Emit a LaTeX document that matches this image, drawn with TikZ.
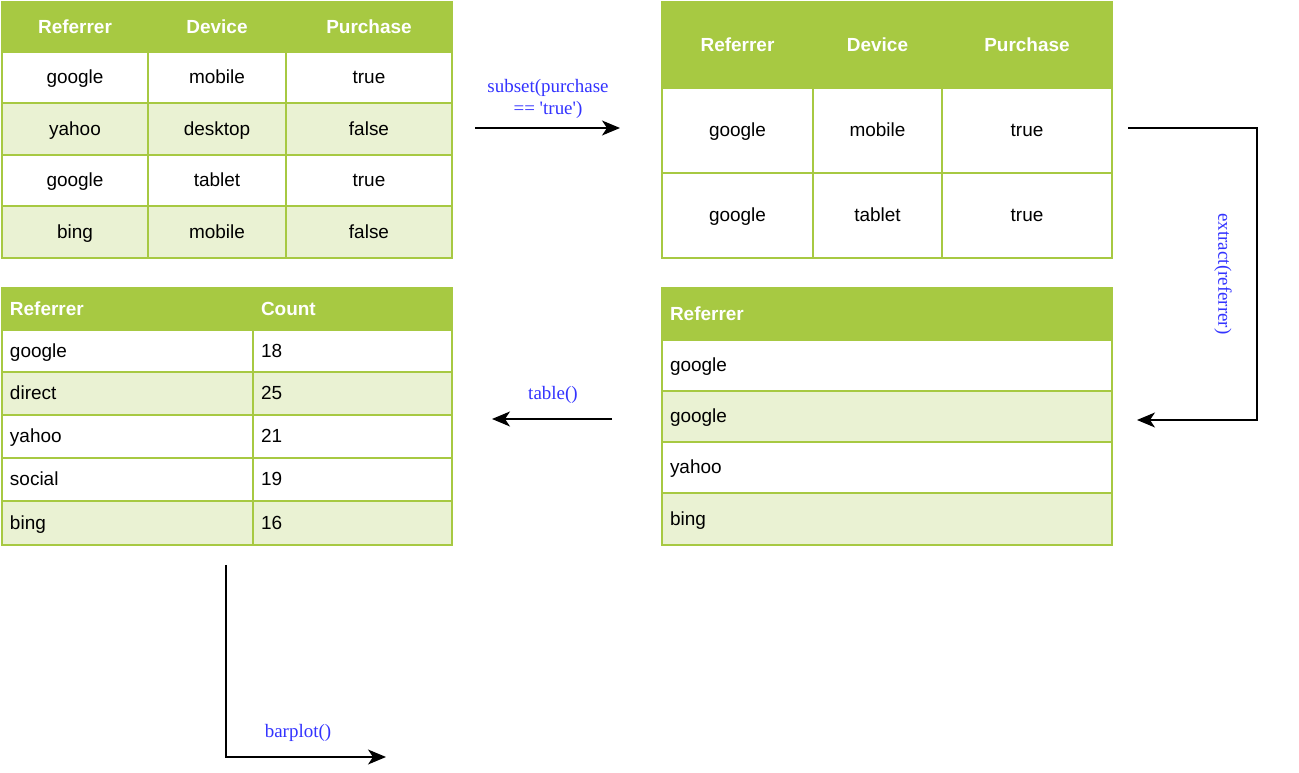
\documentclass[tikz,border=0pt]{standalone}
\usepackage{fontspec}
\setmainfont{Liberation Sans}
\newfontfamily\labelfont{Liberation Serif}[Ligatures=TeXOff]
\usetikzlibrary{arrows, arrows.meta}
\definecolor{tgreen}{HTML}{A7C942}
\definecolor{tlight}{HTML}{EAF2D3}
\definecolor{lblue}{HTML}{3333FF}
\newcommand\px{0.02cm}
\newcommand\tabfont{\fontsize{10.8}{13}\selectfont}
\newcommand\tcell[7]{%
  \pgfmathsetlengthmacro\cw{(#4-#2)*\px}%
  \pgfmathsetlengthmacro\ch{(#5-#3)*\px}%
  \pgfmathsetlengthmacro\tw{(#4-#2-16)*\px}%
  \node[#6, minimum width=\cw, minimum height=\ch] (#1) at ({(#2+#4)/2},{(#3+#5)/2}) {#7};}

\begin{document}
\begin{tikzpicture}[x=0.02cm, y=-0.02cm,
  cell/.style={draw=tgreen, line width=0.8pt, inner sep=0pt, font=\tabfont, text height=1.6ex, text depth=0.3ex},
  head/.style={cell, fill=tgreen, text=white, font=\tabfont\bfseries},
  body/.style={cell, fill=white},
  alt/.style={cell, fill=tlight},
  flush/.style={text width=\tw, align=left, inner xsep=0.16cm},
  lhead/.style={head, flush}, lbody/.style={body, flush}, lalt/.style={alt, flush},
  flow/.style={draw=black, line width=0.8pt, -{Stealth[length=0.36cm, width=0.3cm, inset=0.1cm]}},
  op/.style={text=lblue, font=\labelfont\fontsize{10.8}{12.5}\selectfont, inner sep=0pt, align=center}]
  \useasboundingbox (0,0) rectangle (1299,773);

  \foreach \r/\ya/\yb/\s/\a/\b/\c in {0/2/52/head/Referrer/Device/Purchase,
      1/52/103/body/google/mobile/true, 2/103/155/alt/yahoo/desktop/false,
      3/155/206/body/google/tablet/true, 4/206/258/alt/bing/mobile/false}{
    \tcell{t1-\r-1}{2}{\ya}{148}{\yb}{\s}{\a}
    \tcell{t1-\r-2}{148}{\ya}{286}{\yb}{\s}{\b}
    \tcell{t1-\r-3}{286}{\ya}{452}{\yb}{\s}{\c}
  }

  \foreach \r/\ya/\yb/\s/\a/\b/\c in {0/2/88/head/Referrer/Device/Purchase,
      1/88/173/body/google/mobile/true, 2/173/258/body/google/tablet/true}{
    \tcell{t2-\r-1}{662}{\ya}{813}{\yb}{\s}{\a}
    \tcell{t2-\r-2}{813}{\ya}{942}{\yb}{\s}{\b}
    \tcell{t2-\r-3}{942}{\ya}{1112}{\yb}{\s}{\c}
  }

  \foreach \r/\ya/\yb/\s/\a in {0/288/340/lhead/Referrer, 1/340/391/lbody/google,
      2/391/442/lalt/google, 3/442/493/lbody/yahoo, 4/493/545/lalt/bing}{
    \tcell{t3-\r}{662}{\ya}{1112}{\yb}{\s}{\a}
  }

  \foreach \r/\ya/\yb/\s/\a/\b in {0/288/330/lhead/Referrer/Count,
      1/330/372/lbody/google/18, 2/372/415/lalt/direct/25, 3/415/458/lbody/yahoo/21,
      4/458/501/lbody/social/19, 5/501/545/lalt/bing/16}{
    \tcell{t4-\r-1}{2}{\ya}{253}{\yb}{\s}{\a}
    \tcell{t4-\r-2}{253}{\ya}{452}{\yb}{\s}{\b}
  }

  \coordinate (subIn) at (475,128);
  \coordinate (subOut) at (620,128);
  \draw[flow] (subIn) -- (subOut);
  \node[op] (subLbl) at (548,99) {subset(purchase\\== 'true')};

  \coordinate (extIn) at (1128,128);
  \coordinate (extOut) at (1137,420);
  \draw[flow] (extIn) -- ++(129,0) |- (extOut);
  \node[op, rotate=-90] (extLbl) at (1223,274) {extract(referrer)};

  \coordinate (tabIn) at (612,419);
  \coordinate (tabOut) at (492,419);
  \draw[flow] (tabIn) -- (tabOut);
  \node[op] (tabLbl) at (553,395) {table()};

  \coordinate (barIn) at (226,565);
  \coordinate (barOut) at (386,757);
  \draw[flow] (barIn) |- (barOut);
  \node[op] (barLbl) at (298,733) {barplot()};
\end{tikzpicture}
\end{document}
